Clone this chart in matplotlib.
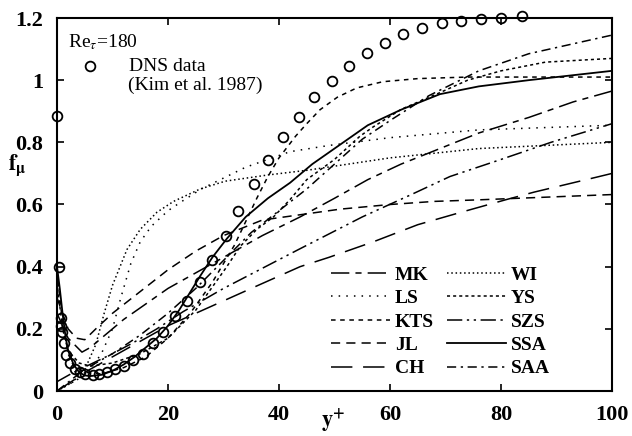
import matplotlib
matplotlib.use("Agg")
import matplotlib.pyplot as plt

plt.rcParams['font.family'] = ['Liberation Serif', 'DejaVu Serif']
plt.rcParams['mathtext.fontset'] = 'stix'

# DNS data (Kim et al. 1987)
dns_x = [0, 0.4, 0.7, 0.7, 0.9, 1.3, 1.7, 2.3, 3.2, 4.1, 5.0, 6.5, 7.6, 9.0, 10.5, 12.1,
         13.7, 15.5, 17.3, 19.1, 21.3, 23.4, 25.8, 27.9, 30.5, 32.6, 35.5, 38.0, 40.8,
         43.6, 46.3, 49.6, 52.6, 55.8, 59.1, 62.3, 65.8, 69.4, 72.8, 76.4, 80.0, 83.8]
dns_y = [0.885, 0.40, 0.235, 0.21, 0.19, 0.155, 0.115, 0.09, 0.07, 0.06, 0.055, 0.05, 0.055,
         0.06, 0.07, 0.08, 0.10, 0.12, 0.155, 0.19, 0.24, 0.29, 0.35, 0.42, 0.50, 0.58, 0.665,
         0.742, 0.816, 0.88, 0.945, 0.997, 1.045, 1.087, 1.12, 1.148, 1.168, 1.184, 1.19,
         1.197, 1.2, 1.206]

# model curves
mk_x = [0, 2, 4.5, 6, 8, 12, 16, 20, 25, 30, 37, 43.8, 50, 56, 62, 69, 76, 85, 93, 100]
mk_y = [0.25, 0.17, 0.125, 0.14, 0.17, 0.23, 0.28, 0.33, 0.38, 0.43, 0.50, 0.56, 0.62, 0.68,
        0.73, 0.78, 0.83, 0.88, 0.93, 0.965]

ls_x = [0, 2, 4, 6, 8, 10, 11.5, 13.3, 15, 17, 20, 22.5, 26, 30, 34, 42, 49, 60, 76, 100]
ls_y = [0.0, 0.02, 0.04, 0.07, 0.12, 0.20, 0.30, 0.41, 0.48, 0.53, 0.58, 0.61, 0.65, 0.685,
        0.72, 0.77, 0.79, 0.815, 0.84, 0.855]

kts_x = [0, 1, 2, 3, 5, 8, 12, 16, 20, 24, 28, 32, 36, 38, 40, 43, 45, 47.4, 50.5, 54,
         58.7, 65, 74, 100]
kts_y = [0.38, 0.22, 0.12, 0.08, 0.06, 0.055, 0.075, 0.11, 0.17, 0.25, 0.35, 0.47, 0.62,
         0.69, 0.75, 0.82, 0.86, 0.905, 0.945, 0.975, 0.995, 1.005, 1.01, 1.01]

jl_x = [0, 1, 2, 3.5, 5, 7, 10, 15, 20, 25, 30, 37, 45, 51, 60, 68, 76, 100]
jl_y = [0.30, 0.25, 0.20, 0.17, 0.165, 0.20, 0.25, 0.32, 0.39, 0.45, 0.50, 0.55, 0.57,
        0.585, 0.60, 0.61, 0.615, 0.632]

ch_x = [0, 3, 6, 10, 15, 20, 25, 30, 35, 43.8, 49, 57, 65, 72.6, 81, 86, 97, 100]
ch_y = [0.0, 0.035, 0.07, 0.11, 0.16, 0.21, 0.25, 0.29, 0.33, 0.40, 0.43, 0.48, 0.535,
        0.574, 0.616, 0.64, 0.687, 0.70]

wi_x = [0, 3, 5.4, 7, 8.5, 10, 12.6, 15, 18, 21, 25.8, 30.3, 38, 45, 60, 76, 100]
wi_y = [0.0, 0.03, 0.085, 0.15, 0.25, 0.34, 0.455, 0.52, 0.575, 0.61, 0.65, 0.675, 0.695,
        0.71, 0.75, 0.78, 0.80]

ys_x = [0, 1, 2, 4, 6, 10, 15, 20, 25, 30.6, 33, 36, 39, 42, 45, 50, 54.6, 57, 62, 69,
        74, 80, 88, 100]
ys_y = [0.35, 0.20, 0.13, 0.09, 0.08, 0.09, 0.12, 0.17, 0.26, 0.40, 0.465, 0.52, 0.56,
        0.616, 0.68, 0.745, 0.82, 0.85, 0.906, 0.96, 1.0, 1.03, 1.058, 1.07]

szs_x = [0, 3, 6.5, 10, 13.7, 18, 22.7, 30, 43.5, 55, 63.6, 70.8, 80, 89, 100]
szs_y = [0.03, 0.06, 0.09, 0.12, 0.155, 0.20, 0.255, 0.33, 0.455, 0.56, 0.63, 0.69,
         0.745, 0.80, 0.86]

ssa_x = [0, 0.5, 1, 1.5, 2, 3, 4, 5, 6, 8, 10, 12, 14, 16, 18, 20, 22, 25.8, 28, 30.6,
         34, 38, 42, 46, 50, 56, 62, 69, 76, 85, 100]
ssa_y = [0.40, 0.33, 0.25, 0.18, 0.13, 0.085, 0.06, 0.05, 0.048, 0.052, 0.065, 0.085,
         0.11, 0.14, 0.17, 0.21, 0.26, 0.37, 0.43, 0.49, 0.56, 0.62, 0.67, 0.73, 0.78,
         0.855, 0.905, 0.955, 0.98, 1.0, 1.03]

saa_x = [0, 5, 10, 15, 20, 25, 30, 35, 40, 45, 50, 55, 60, 67, 76, 85, 100]
saa_y = [0.0, 0.07, 0.12, 0.18, 0.25, 0.33, 0.42, 0.51, 0.58, 0.65, 0.73, 0.81, 0.87,
         0.95, 1.03, 1.085, 1.145]

labels = ['MK', 'LS', 'KTS', 'JL', 'CH', 'WI', 'YS', 'SZS', 'SSA', 'SAA']
x_ticks = [0, 20, 40, 60, 80, 100]
y_ticks = [0, 0.2, 0.4, 0.6, 0.8, 1.0, 1.2]
y_tick_labels = ['0', '0.2', '0.4', '0.6', '0.8', '1', '1.2']

W, H = 632, 436
fig = plt.figure(figsize=(W / 100, H / 100), dpi=100)
ax = fig.add_axes([57 / W, 1 - 391 / H, 555 / W, 373 / H])

lw = 1.1
styles = {
    'MK': (0, (12, 4, 4, 4)),
    'LS': (0, (1, 4)),
    'KTS': (0, (3, 3)),
    'JL': (0, (6, 4)),
    'CH': (0, (14, 7)),
    'WI': (0, (1, 1.8)),
    'YS': (0, (2, 2)),
    'SZS': (0, (10, 3, 1.5, 3, 1.5, 3)),
    'SSA': '-',
    'SAA': (0, (6, 3, 1.5, 3)),
}
data = {
    'MK': (mk_x, mk_y), 'LS': (ls_x, ls_y), 'KTS': (kts_x, kts_y), 'JL': (jl_x, jl_y),
    'CH': (ch_x, ch_y), 'WI': (wi_x, wi_y), 'YS': (ys_x, ys_y), 'SZS': (szs_x, szs_y),
    'SSA': (ssa_x, ssa_y), 'SAA': (saa_x, saa_y),
}
handles = []
for lab in labels:
    xs, ys = data[lab]
    h, = ax.plot(xs, ys, color='black', lw=1.3 if lab == 'SSA' else lw,
                 linestyle=styles[lab], label=lab)
    handles.append(h)

ax.plot(dns_x, dns_y, linestyle='none', marker='o', markersize=7, mfc='none',
        mec='black', mew=1.3, clip_on=False)

ax.set_xlim(0, 100)
ax.set_ylim(0, 1.2)
ax.set_xticks(x_ticks)
ax.set_yticks(y_ticks)
ax.set_yticklabels(y_tick_labels)
ax.tick_params(direction='in', top=True, right=True, length=5, width=1.2,
               labelsize=16, pad=10)
for t in ax.get_xticklabels() + ax.get_yticklabels():
    t.set_fontweight('bold')
for s in ax.spines.values():
    s.set_linewidth(1.5)

fig.text(333 / W, 1 - 421 / H, r'$\mathbf{y^{+}}$', fontsize=16, ha='center', va='center')
fig.text(17 / W, 1 - 152 / H, r'$\mathbf{f}_{\mathbf{\mu}}$', fontsize=16,
         ha='center', va='top')

ax.text(0.02, 0.935, r'Re$_\tau$=180', transform=ax.transAxes, fontsize=14, va='center')
ax.plot([0.06], [0.871], transform=ax.transAxes, marker='o', markersize=7, mfc='none',
        mec='black', mew=1.3)
ax.text(0.13, 0.871, 'DNS data', transform=ax.transAxes, fontsize=14, va='center')
ax.text(0.128, 0.82, '(Kim et al. 1987)', transform=ax.transAxes, fontsize=14, va='center')

leg = ax.legend(handles=handles, ncol=2, loc='lower left', bbox_to_anchor=(0.47, 0.0),
                frameon=False, handlelength=3.0, handletextpad=0.25, columnspacing=0.7,
                labelspacing=0.3, borderaxespad=0.3,
                prop={'family': 'Liberation Serif', 'weight': 'bold', 'size': 14})

fig.savefig('out.png', dpi=100)
